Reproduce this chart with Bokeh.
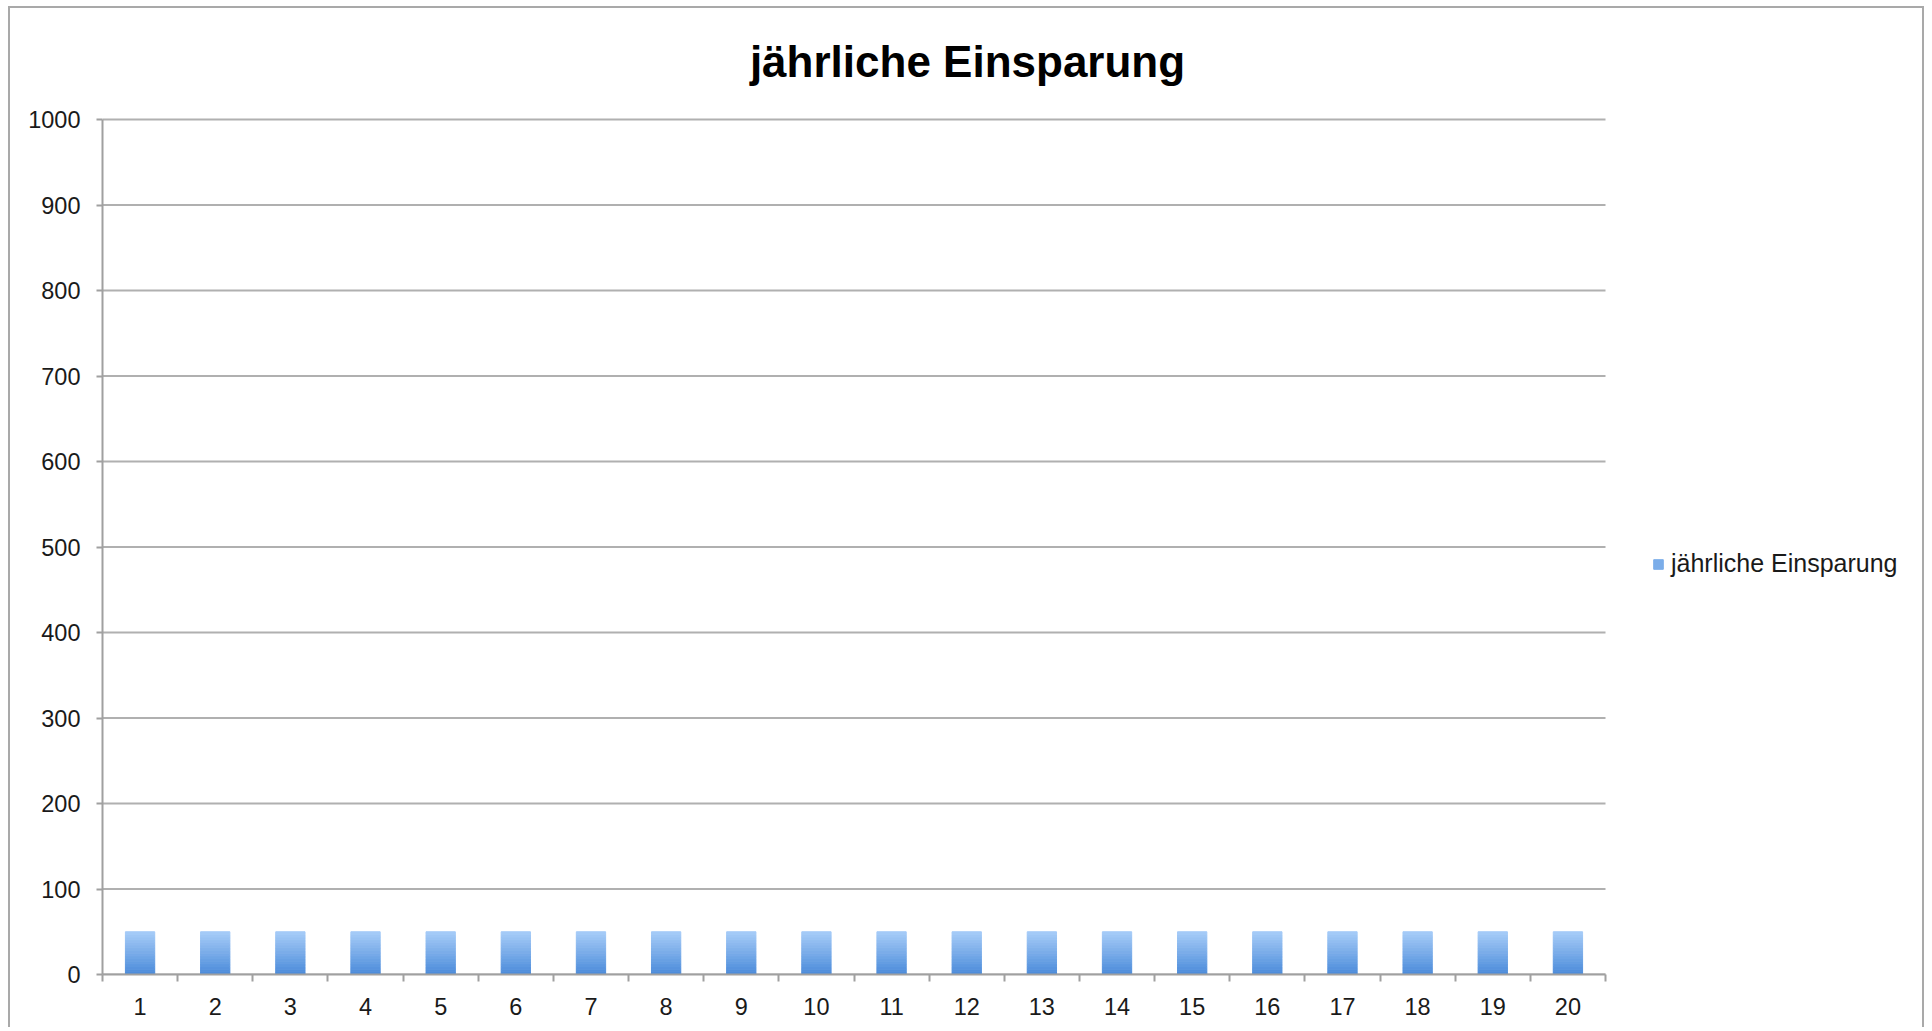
from bokeh.plotting import figure
from bokeh.models import Range1d, FixedTicker, Legend, LegendItem, Label
from bokeh.embed import file_html
from bokeh.resources import INLINE

# ---- data ----
years = list(range(1, 21))
savings = [50] * 20
tick_labels = [str(y) for y in years]
y_ticks = list(range(0, 1001, 100))
title_text = "jährliche Einsparung"
series_name = "jährliche Einsparung"

FONT = "Liberation Sans"

# frame covers the whole canvas except the axis margins; the axes span
# 0.5..20.5 over 1503 px and 0..1000 over 855 px
W, H = 1916, 1021
LEFT, BOTTOM = 92, 55
frame_w = W - LEFT
frame_h = H - BOTTOM
x_end = 0.5 + len(years) * frame_w / 1503.0
y_end = y_ticks[-1] * frame_h / 855.0

p = figure(width=W, height=H, output_backend="svg", toolbar_location=None, title=None,
           x_range=Range1d(0.5, x_end), y_range=Range1d(0, y_end),
           min_border_left=LEFT, min_border_right=0, min_border_top=0, min_border_bottom=BOTTOM)
p.styles = {"margin-left": "8px", "margin-top": "6px",
            "border-top": "2px solid #a9a9a9", "border-left": "2px solid #a9a9a9",
            "border-right": "2px solid #a9a9a9"}
p.outline_line_color = None
p.background_fill_color = "white"
p.border_fill_color = "white"

# chart title
p.add_layout(Label(x=865, y=913, x_units="screen", y_units="screen", text=title_text,
                   text_font=FONT, text_font_style="bold", text_font_size="44px",
                   text_color="#000000", text_align="center", text_baseline="middle"))

# horizontal grid lines limited to the category span
x_lo, x_hi = years[0] - 0.5, years[-1] + 0.5
p.segment(x0=[x_lo] * len(y_ticks), x1=[x_hi] * len(y_ticks), y0=y_ticks, y1=y_ticks,
          line_color="#b0b0b0", line_width=2)

# gradient bars from stacked strips
top_c = (0xA4, 0xCA, 0xF7)
bot_c = (0x4C, 0x8C, 0xDA)
N = 16
renderers = []
for k in range(N):
    t = k / (N - 1)
    c = tuple(int(round(bot_c[i] + (top_c[i] - bot_c[i]) * t)) for i in range(3))
    col = "#%02x%02x%02x" % c
    r = p.vbar(x=years, bottom=[v * k / N for v in savings], top=[v * (k + 1) / N for v in savings],
               width=0.39, fill_color=col, line_color=col, line_width=1)
    renderers.append(r)

legend = Legend(items=[LegendItem(label=series_name, renderers=[renderers[N // 2]])],
                location=(1550, 396), orientation="vertical",
                padding=0, margin=0, border_line_color=None, background_fill_alpha=0,
                glyph_width=12, glyph_height=12, label_standoff=7,
                label_text_font=FONT, label_text_font_size="25px", label_text_color="#1a1a1a")
p.add_layout(legend, "center")

# axes
p.xaxis.bounds = (x_lo, x_hi)
p.xaxis.ticker = FixedTicker(ticks=years, minor_ticks=[y + 0.5 for y in [0] + years])
p.xaxis.major_label_overrides = {y: lab for y, lab in zip(years, tick_labels)}
p.xaxis.major_tick_out = 0
p.xaxis.major_tick_in = 0
p.xaxis.minor_tick_out = 7
p.xaxis.minor_tick_in = 0
p.xaxis.minor_tick_line_color = "#a0a0a0"
p.xaxis.minor_tick_line_width = 2
p.xaxis.major_label_standoff = 16

p.yaxis.bounds = (y_ticks[0], y_ticks[-1])
p.yaxis.ticker = FixedTicker(ticks=y_ticks)
p.yaxis.major_tick_out = 6
p.yaxis.major_tick_in = 0
p.yaxis.minor_tick_out = 0
p.yaxis.minor_tick_in = 0
p.yaxis.major_label_standoff = 16

for ax in (p.xaxis, p.yaxis):
    ax.axis_line_color = "#a0a0a0"
    ax.axis_line_width = 2
    ax.major_tick_line_color = "#a0a0a0"
    ax.major_tick_line_width = 2
    ax.major_label_text_font = FONT
    ax.major_label_text_font_size = "23.5px"
    ax.major_label_text_color = "#1a1a1a"

p.xgrid.grid_line_color = None
p.ygrid.grid_line_color = None

open("out.html", "w").write(file_html(p, INLINE))
